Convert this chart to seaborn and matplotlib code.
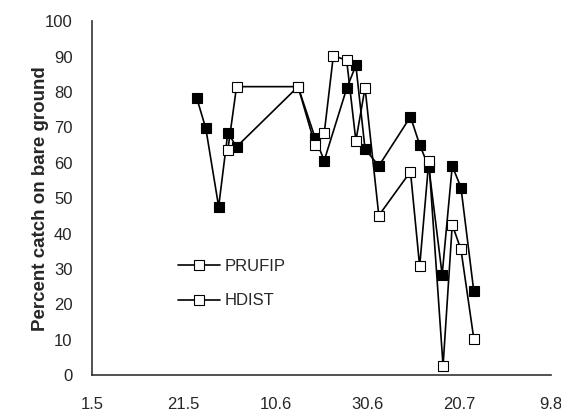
import matplotlib
matplotlib.use('Agg')
import matplotlib.pyplot as plt
import seaborn as sns
from matplotlib.lines import Line2D

# days since 1 May
filled_days = [22.8, 24.8, 27.6, 29.6, 31.5, 44.9, 48.6, 50.6, 55.5, 57.5,
               59.5, 62.5, 69.4, 71.4, 73.4, 76.3, 78.5, 80.4, 83.2]
filled_pct = [78.4, 69.7, 47.6, 68.5, 64.5, 81.5, 67.1, 60.6, 81.0, 87.5,
              63.9, 59.1, 73.0, 65.1, 58.7, 28.4, 59.1, 53.0, 23.7]

open_days = [29.6, 31.5, 44.9, 48.6, 50.6, 52.6, 55.5, 57.5, 59.5, 62.5,
             69.4, 71.4, 73.4, 76.5, 78.5, 80.4, 83.2]
open_pct = [63.6, 81.5, 81.5, 65.0, 68.3, 90.3, 88.9, 66.2, 81.2, 45.1,
            57.5, 30.7, 60.6, 2.6, 42.5, 35.5, 10.3]

tick_days = [0, 20, 40, 60, 80, 100]
tick_labels = ['1.5', '21.5', '10.6', '30.6', '20.7', '9.8']
legend_labels = ['PRUFIP', 'HDIST']

sns.set_style('white')
plt.rcParams['font.family'] = ['Liberation Sans', 'DejaVu Sans']

fig = plt.figure(figsize=(5.61, 4.15), dpi=100)
ax = fig.add_axes([0.164, 0.096, 0.818, 0.853])

# filled series first, open on top (open squares hide filled where they coincide)
sns.lineplot(x=filled_days, y=filled_pct, ax=ax, color='black', lw=1.2,
             marker='s', markersize=7.5, markerfacecolor='black',
             markeredgecolor='black', markeredgewidth=0.8, estimator=None)
sns.lineplot(x=open_days, y=open_pct, ax=ax, color='black', lw=1.2,
             marker='s', markersize=7.5, markerfacecolor='white',
             markeredgecolor='black', markeredgewidth=0.8, estimator=None)

ax.set_xlim(0, 100)
ax.set_ylim(0, 100)
ax.set_xticks(tick_days)
ax.set_xticklabels(tick_labels)
ax.set_yticks(range(0, 101, 10))
ax.tick_params(axis='both', direction='in', length=5, width=1, color='#333333',
               labelsize=12)
ax.tick_params(axis='x', pad=16)
ax.tick_params(axis='y', pad=14)

for s in ['top', 'right']:
    ax.spines[s].set_visible(False)
for s in ['left', 'bottom']:
    ax.spines[s].set_color('#333333')
    ax.spines[s].set_linewidth(1.2)

ax.set_ylabel('Percent catch on bare ground', fontsize=13.5, fontweight='bold', labelpad=-3)
ax.set_xlabel('')

handles = [Line2D([], [], color='black', lw=1.2, marker='s', markersize=7.5,
                  markerfacecolor='white', markeredgecolor='black', markeredgewidth=0.8)
           for _ in legend_labels]
ax.legend(handles, legend_labels, loc='upper left', bbox_to_anchor=(0.155, 0.37),
          frameon=False, fontsize=12, labelspacing=1.15, handlelength=2.5,
          handletextpad=0.3)

fig.savefig('out.png', dpi=100)
